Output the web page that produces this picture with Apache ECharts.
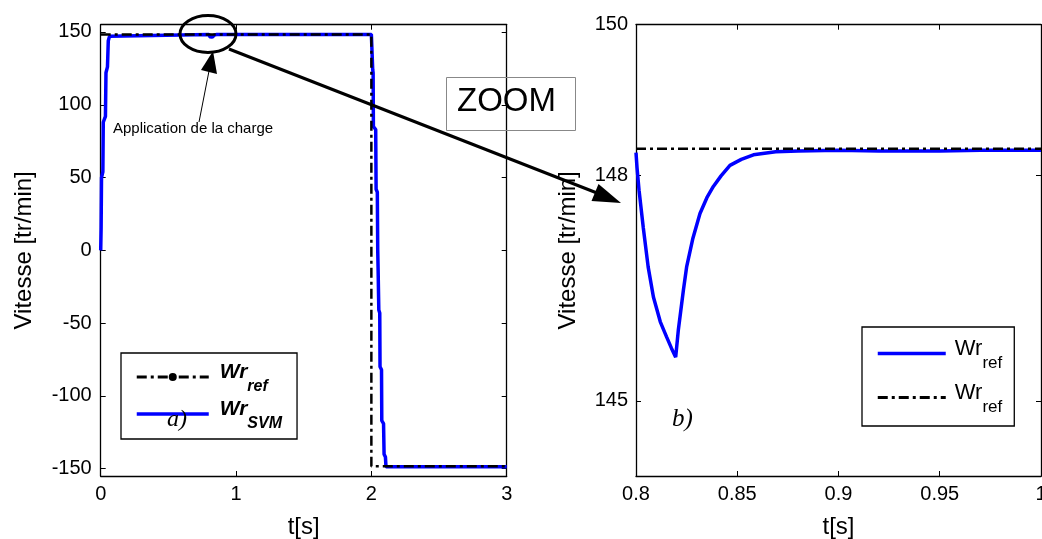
<!DOCTYPE html>
<html>
<head>
<meta charset="utf-8">
<title>Vitesse</title>
<script src="https://cdn.jsdelivr.net/npm/echarts@6/dist/echarts.min.js"></script>
<style>
html, body { margin: 0; padding: 0; background: #fff; }
#main { width: 1042px; height: 539px; }
</style>
</head>
<body>
<div id="main"></div>
<script>
// reference speed (left panel)
var tRef = [0, 2, 2, 3];
var wRef = [148.35, 148.35, -148.35, -148.35];

// SVM speed, start-up staircase
var tRise = [0, 0.003, 0.006, 0.016, 0.019, 0.035, 0.039, 0.05, 0.056, 0.065, 0.076];
var wRise = [0, 15, 50, 54, 88, 92, 122, 126, 144, 147, 148.3];

// SVM speed around load application (zoom)
var tZoom = [0.8, 0.8005, 0.8015, 0.8036, 0.806, 0.8086, 0.812, 0.8151, 0.8175, 0.8196,
             0.8209, 0.8234, 0.825, 0.828, 0.8316, 0.835, 0.8382, 0.842, 0.8464, 0.852,
             0.858, 0.869, 0.88, 0.9, 0.92, 0.95, 0.97, 1.0];
var wZoom = [148.3, 148.1, 147.8, 147.3, 146.78, 146.38, 146.05, 145.85, 145.7, 145.58,
             145.94, 146.47, 146.78, 147.15, 147.49, 147.7, 147.85, 147.99, 148.13, 148.21,
             148.27, 148.31, 148.32, 148.33, 148.32, 148.32, 148.33, 148.33];

// SVM speed, reversal staircase
var tFall = [2.0, 2.008, 2.01, 2.013, 2.015, 2.032, 2.035, 2.044, 2.047, 2.05, 2.055, 2.062,
             2.064, 2.075, 2.077, 2.09, 2.094, 2.104, 2.108, 3.0];
var wFall = [148.33, 148, 124, 122, 85, 83, 42, 40, 0, -14, -41, -43,
             -80, -82, -117, -119, -140, -142, -148.6, -148.6];

// reference in zoom window
var tZoomRef = [0.8, 1.0];
var wZoomRef = [148.35, 148.35];

var yTicksLeft = [-150, -100, -50, 0, 50, 100, 150];
var yTicksRight = [145, 148, 150];

function zip(t, w) {
    return t.map(function (v, i) { return [v, w[i]]; });
}

var svmFull = zip(tRise, wRise).concat(zip(tZoom, wZoom)).concat(zip(tFall, wFall));

var font = '"Liberation Sans", Arial, Helvetica, sans-serif';
var dashDot = [10, 4, 3, 4];
var axisLine = { show: true, onZero: false, lineStyle: { color: '#000', width: 1.3 } };
var tickIn = { inside: true, length: 5, lineStyle: { color: '#000', width: 1 } };
var labelStyle = { color: '#000', fontSize: 20, fontFamily: font };
var noSym = { opacity: 0 };

var chart = echarts.init(document.getElementById('main'));

var option = {
    backgroundColor: '#fff',
    animation: false,
    grid: [
        { left: 100.7, top: 24.7, width: 406, height: 451.3, outerBoundsMode: 'none' },
        { left: 636, top: 24.7, width: 405, height: 451.3, outerBoundsMode: 'none' }
    ],
    xAxis: [
        {
            gridIndex: 0, type: 'value', min: 0, max: 3, interval: 1,
            axisLine: axisLine, axisTick: tickIn, splitLine: { show: false },
            axisLabel: Object.assign({ margin: 8 }, labelStyle),
            name: 't[s]', nameLocation: 'middle', nameGap: 39,
            nameTextStyle: { color: '#000', fontSize: 24, fontFamily: font }
        },
        {
            gridIndex: 0, type: 'value', position: 'top', min: 0, max: 3, interval: 1,
            axisLine: axisLine, axisTick: tickIn, axisLabel: { show: false }, splitLine: { show: false }
        },
        {
            gridIndex: 1, type: 'value', min: 0.8, max: 1, interval: 0.05,
            axisLine: axisLine, axisTick: tickIn, splitLine: { show: false },
            axisLabel: Object.assign({ margin: 8 }, labelStyle),
            name: 't[s]', nameLocation: 'middle', nameGap: 39,
            nameTextStyle: { color: '#000', fontSize: 24, fontFamily: font }
        },
        {
            gridIndex: 1, type: 'value', position: 'top', min: 0.8, max: 1, interval: 0.05,
            axisLine: axisLine, axisTick: tickIn, axisLabel: { show: false }, splitLine: { show: false }
        }
    ],
    yAxis: [
        {
            gridIndex: 0, type: 'value', min: -155, max: 155,
            axisLine: axisLine, splitLine: { show: false },
            axisTick: Object.assign({ customValues: yTicksLeft }, tickIn),
            axisLabel: Object.assign({ margin: 9, customValues: yTicksLeft }, labelStyle),
            name: 'Vitesse [tr/min]', nameLocation: 'middle', nameGap: 64,
            nameTextStyle: { color: '#000', fontSize: 24, fontFamily: font }
        },
        {
            gridIndex: 0, type: 'value', position: 'right', min: -155, max: 155,
            axisLine: axisLine, splitLine: { show: false },
            axisTick: Object.assign({ customValues: yTicksLeft }, tickIn),
            axisLabel: { show: false }
        },
        {
            gridIndex: 1, type: 'value', min: 144, max: 150,
            axisLine: axisLine, splitLine: { show: false },
            axisTick: Object.assign({ customValues: yTicksRight }, tickIn),
            axisLabel: Object.assign({ margin: 8, customValues: yTicksRight }, labelStyle),
            name: 'Vitesse [tr/min]', nameLocation: 'middle', nameGap: 56,
            nameTextStyle: { color: '#000', fontSize: 24, fontFamily: font }
        },
        {
            gridIndex: 1, type: 'value', position: 'right', min: 144, max: 150,
            axisLine: axisLine, splitLine: { show: false },
            axisTick: Object.assign({ customValues: yTicksRight }, tickIn),
            axisLabel: { show: false }
        }
    ],
    legend: [
        {
            data: [
                { name: 'Wr_ref', lineStyle: { width: 3 } },
                { name: 'Wr_SVM', itemStyle: noSym, lineStyle: { width: 3.5 } }
            ],
            orient: 'vertical', left: 121, top: 353,
            padding: [6, 15, 7, 14], itemGap: 1, itemWidth: 72, itemHeight: 10,
            borderColor: '#000', borderWidth: 1.3, borderRadius: 0,
            selectedMode: false,
            formatter: function (name) {
                return name === 'Wr_ref' ? '{m|Wr}{s|ref}' : '{m|Wr}{s|SVM}';
            },
            textStyle: {
                color: '#000', fontFamily: font, fontStyle: 'italic', fontWeight: 'bold',
                rich: {
                    m: { fontSize: 21, fontStyle: 'italic', fontWeight: 'bold', fontFamily: font,
                         lineHeight: 26, padding: [0, 0, 10, 6] },
                    s: { fontSize: 16, fontStyle: 'italic', fontWeight: 'bold', fontFamily: font,
                         lineHeight: 16, padding: [20, 0, 0, 0] }
                }
            }
        },
        {
            data: [
                { name: 'zoomSVM', itemStyle: noSym, lineStyle: { width: 3.5 } },
                { name: 'zoomRef', itemStyle: noSym, lineStyle: { width: 3 } }
            ],
            orient: 'vertical', left: 862, top: 327,
            padding: [8, 12, 10, 14], itemGap: 7, itemWidth: 68, itemHeight: 10,
            borderColor: '#000', borderWidth: 1.3, borderRadius: 0,
            selectedMode: false,
            formatter: function () { return '{m|Wr}{s|ref}'; },
            textStyle: {
                color: '#000', fontFamily: font,
                rich: {
                    m: { fontSize: 22, fontFamily: font, lineHeight: 26, padding: [0, 0, 10, 4] },
                    s: { fontSize: 17, fontFamily: font, lineHeight: 16, padding: [20, 0, 0, 0] }
                }
            }
        }
    ],
    series: [
        {
            name: 'Wr_SVM', type: 'line', xAxisIndex: 0, yAxisIndex: 0,
            data: svmFull, symbol: 'none', z: 2,
            lineStyle: { color: '#0000ff', width: 3.5 }, itemStyle: { color: '#0000ff' }
        },
        {
            name: 'Wr_ref', type: 'line', xAxisIndex: 0, yAxisIndex: 0,
            data: zip(tRef, wRef), symbol: 'circle', symbolSize: 7, showSymbol: false, z: 3,
            lineStyle: { color: '#000', width: 2.5, type: dashDot }, itemStyle: { color: '#000' }
        },
        {
            name: 'zoomSVM', type: 'line', xAxisIndex: 2, yAxisIndex: 2,
            data: zip(tZoom, wZoom), symbol: 'none', z: 2,
            lineStyle: { color: '#0000ff', width: 3.5 }, itemStyle: { color: '#0000ff' }
        },
        {
            name: 'zoomRef', type: 'line', xAxisIndex: 2, yAxisIndex: 2,
            data: zip(tZoomRef, wZoomRef), symbol: 'none', z: 3,
            lineStyle: { color: '#000', width: 2.5, type: dashDot }, itemStyle: { color: '#000' }
        }
    ],
    graphic: [
        { type: 'ellipse', z: 100, shape: { cx: 208, cy: 34, rx: 28, ry: 18.5 },
          style: { fill: null, stroke: '#000', lineWidth: 3 } },
        { type: 'line', z: 100, shape: { x1: 229, y1: 49, x2: 597, y2: 193 },
          style: { stroke: '#000', lineWidth: 3 } },
        { type: 'polygon', z: 100, shape: { points: [[621, 203], [591.5, 201], [598.5, 184]] },
          style: { fill: '#000' } },
        { type: 'line', z: 100, shape: { x1: 199, y1: 122, x2: 209, y2: 71 },
          style: { stroke: '#000', lineWidth: 1 } },
        { type: 'polygon', z: 100, shape: { points: [[213, 51], [201, 70], [217, 74]] },
          style: { fill: '#000' } },
        { type: 'text', z: 100, x: 113, y: 129,
          style: { text: 'Application de la charge', fontSize: 15, fontFamily: font,
                   fill: '#000', verticalAlign: 'middle' } },
        { type: 'rect', z: 100, shape: { x: 446.5, y: 77.5, width: 129, height: 53 },
          style: { fill: null, stroke: '#888', lineWidth: 1 } },
        { type: 'text', z: 100, x: 457, y: 102,
          style: { text: 'ZOOM', fontSize: 33, fontFamily: font, fill: '#000', verticalAlign: 'middle' } },
        { type: 'text', z: 100, x: 167, y: 420,
          style: { text: 'a)', fontSize: 24, fontStyle: 'italic',
                   fontFamily: '"Liberation Serif", "Times New Roman", serif',
                   fill: '#000', verticalAlign: 'middle' } },
        { type: 'text', z: 100, x: 672, y: 419,
          style: { text: 'b)', fontSize: 25, fontStyle: 'italic',
                   fontFamily: '"Liberation Serif", "Times New Roman", serif',
                   fill: '#000', verticalAlign: 'middle' } }
    ]
};

chart.setOption(option);
</script>
</body>
</html>
